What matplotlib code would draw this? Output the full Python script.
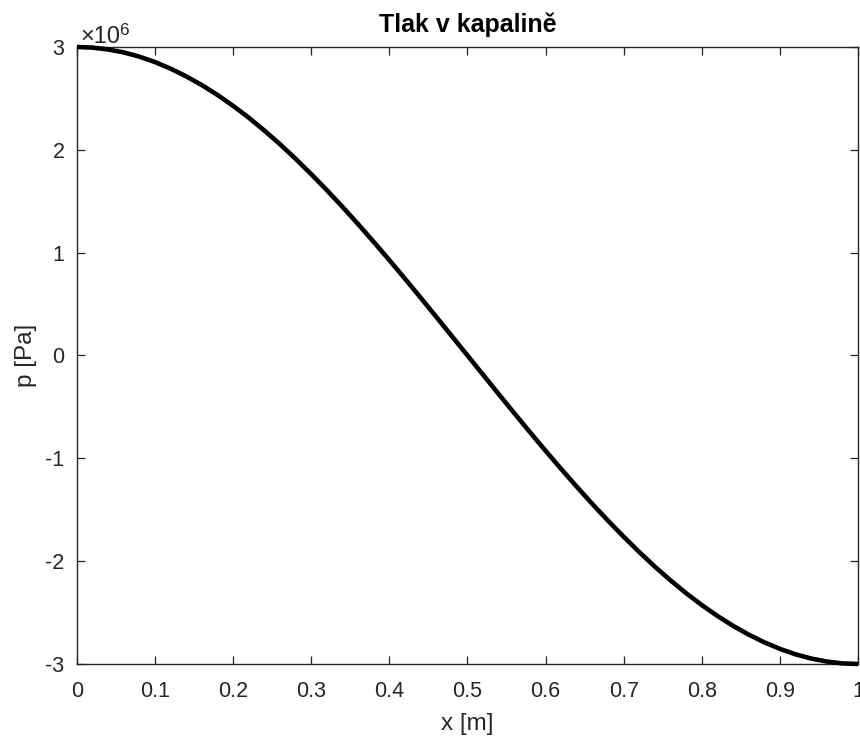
import numpy as np
import matplotlib.pyplot as plt

plt.rcParams['font.family'] = ['Liberation Sans', 'DejaVu Sans']
plt.rcParams['axes.unicode_minus'] = False

# pressure along the pipe, sampled every 0.02 m (values in 1e6 Pa)
x = [0.00, 0.02, 0.04, 0.06, 0.08, 0.10, 0.12, 0.14, 0.16, 0.18,
     0.20, 0.22, 0.24, 0.26, 0.28, 0.30, 0.32, 0.34, 0.36, 0.38,
     0.40, 0.42, 0.44, 0.46, 0.48, 0.50, 0.52, 0.54, 0.56, 0.58,
     0.60, 0.62, 0.64, 0.66, 0.68, 0.70, 0.72, 0.74, 0.76, 0.78,
     0.80, 0.82, 0.84, 0.86, 0.88, 0.90, 0.92, 0.94, 0.96, 0.98, 1.00]
p_mpa = [3.000, 2.994, 2.976, 2.947, 2.906, 2.853, 2.789, 2.714, 2.629, 2.533,
         2.427, 2.312, 2.187, 2.054, 1.912, 1.763, 1.607, 1.445, 1.277, 1.104,
         0.927, 0.746, 0.562, 0.376, 0.188, 0.000, -0.188, -0.376, -0.562, -0.746,
         -0.927, -1.104, -1.277, -1.445, -1.607, -1.763, -1.912, -2.054, -2.187, -2.312,
         -2.427, -2.533, -2.629, -2.714, -2.789, -2.853, -2.906, -2.947, -2.976, -2.994, -3.000]
p = np.array(p_mpa) * 1e6

xticks = [0, 0.1, 0.2, 0.3, 0.4, 0.5, 0.6, 0.7, 0.8, 0.9, 1]
xticklabels = ['0', '0.1', '0.2', '0.3', '0.4', '0.5', '0.6', '0.7', '0.8', '0.9', '1']
yticks = [-3e6, -2e6, -1e6, 0, 1e6, 2e6, 3e6]
yticklabels = ['-3', '-2', '-1', '0', '1', '2', '3']

axis_col = '#262626'

fig = plt.figure(figsize=(8.6, 7.4), dpi=100)
ax = fig.add_axes([0.0895, 0.1027, 0.9082, 0.8338])

ax.plot(x, p, color='black', lw=3.3, solid_joinstyle='round',
        solid_capstyle='butt', clip_on=False, zorder=3)

ax.set_xlim(0, 1)
ax.set_ylim(-3e6, 3e6)
ax.set_xticks(xticks)
ax.set_xticklabels(xticklabels)
ax.set_yticks(yticks)
ax.set_yticklabels(yticklabels)

ax.tick_params(direction='in', length=6, width=0.9, colors=axis_col,
               labelsize=15.5, top=True, right=True, pad=9)
ax.tick_params(axis='x', pad=12)
for s in ax.spines.values():
    s.set_color(axis_col)
    s.set_linewidth(1.0)

# exponent marker above the y axis: "x10" with a raised 6
ax.annotate('×10', xy=(0, 1), xycoords='axes fraction',
            xytext=(3, 4), textcoords='offset pixels',
            fontsize=17, color=axis_col, ha='left', va='baseline')
ax.annotate('6', xy=(0, 1), xycoords='axes fraction',
            xytext=(42, 12), textcoords='offset pixels',
            fontsize=12.5, color=axis_col, ha='left', va='baseline')

ax.set_title('Tlak v kapalině', fontsize=18, fontweight='bold', pad=11)
ax.set_xlabel('x [m]', fontsize=17.5, color=axis_col, labelpad=8)
ax.set_ylabel('p [Pa]', fontsize=17.5, color=axis_col, labelpad=6)

fig.savefig('out.png', dpi=100)
